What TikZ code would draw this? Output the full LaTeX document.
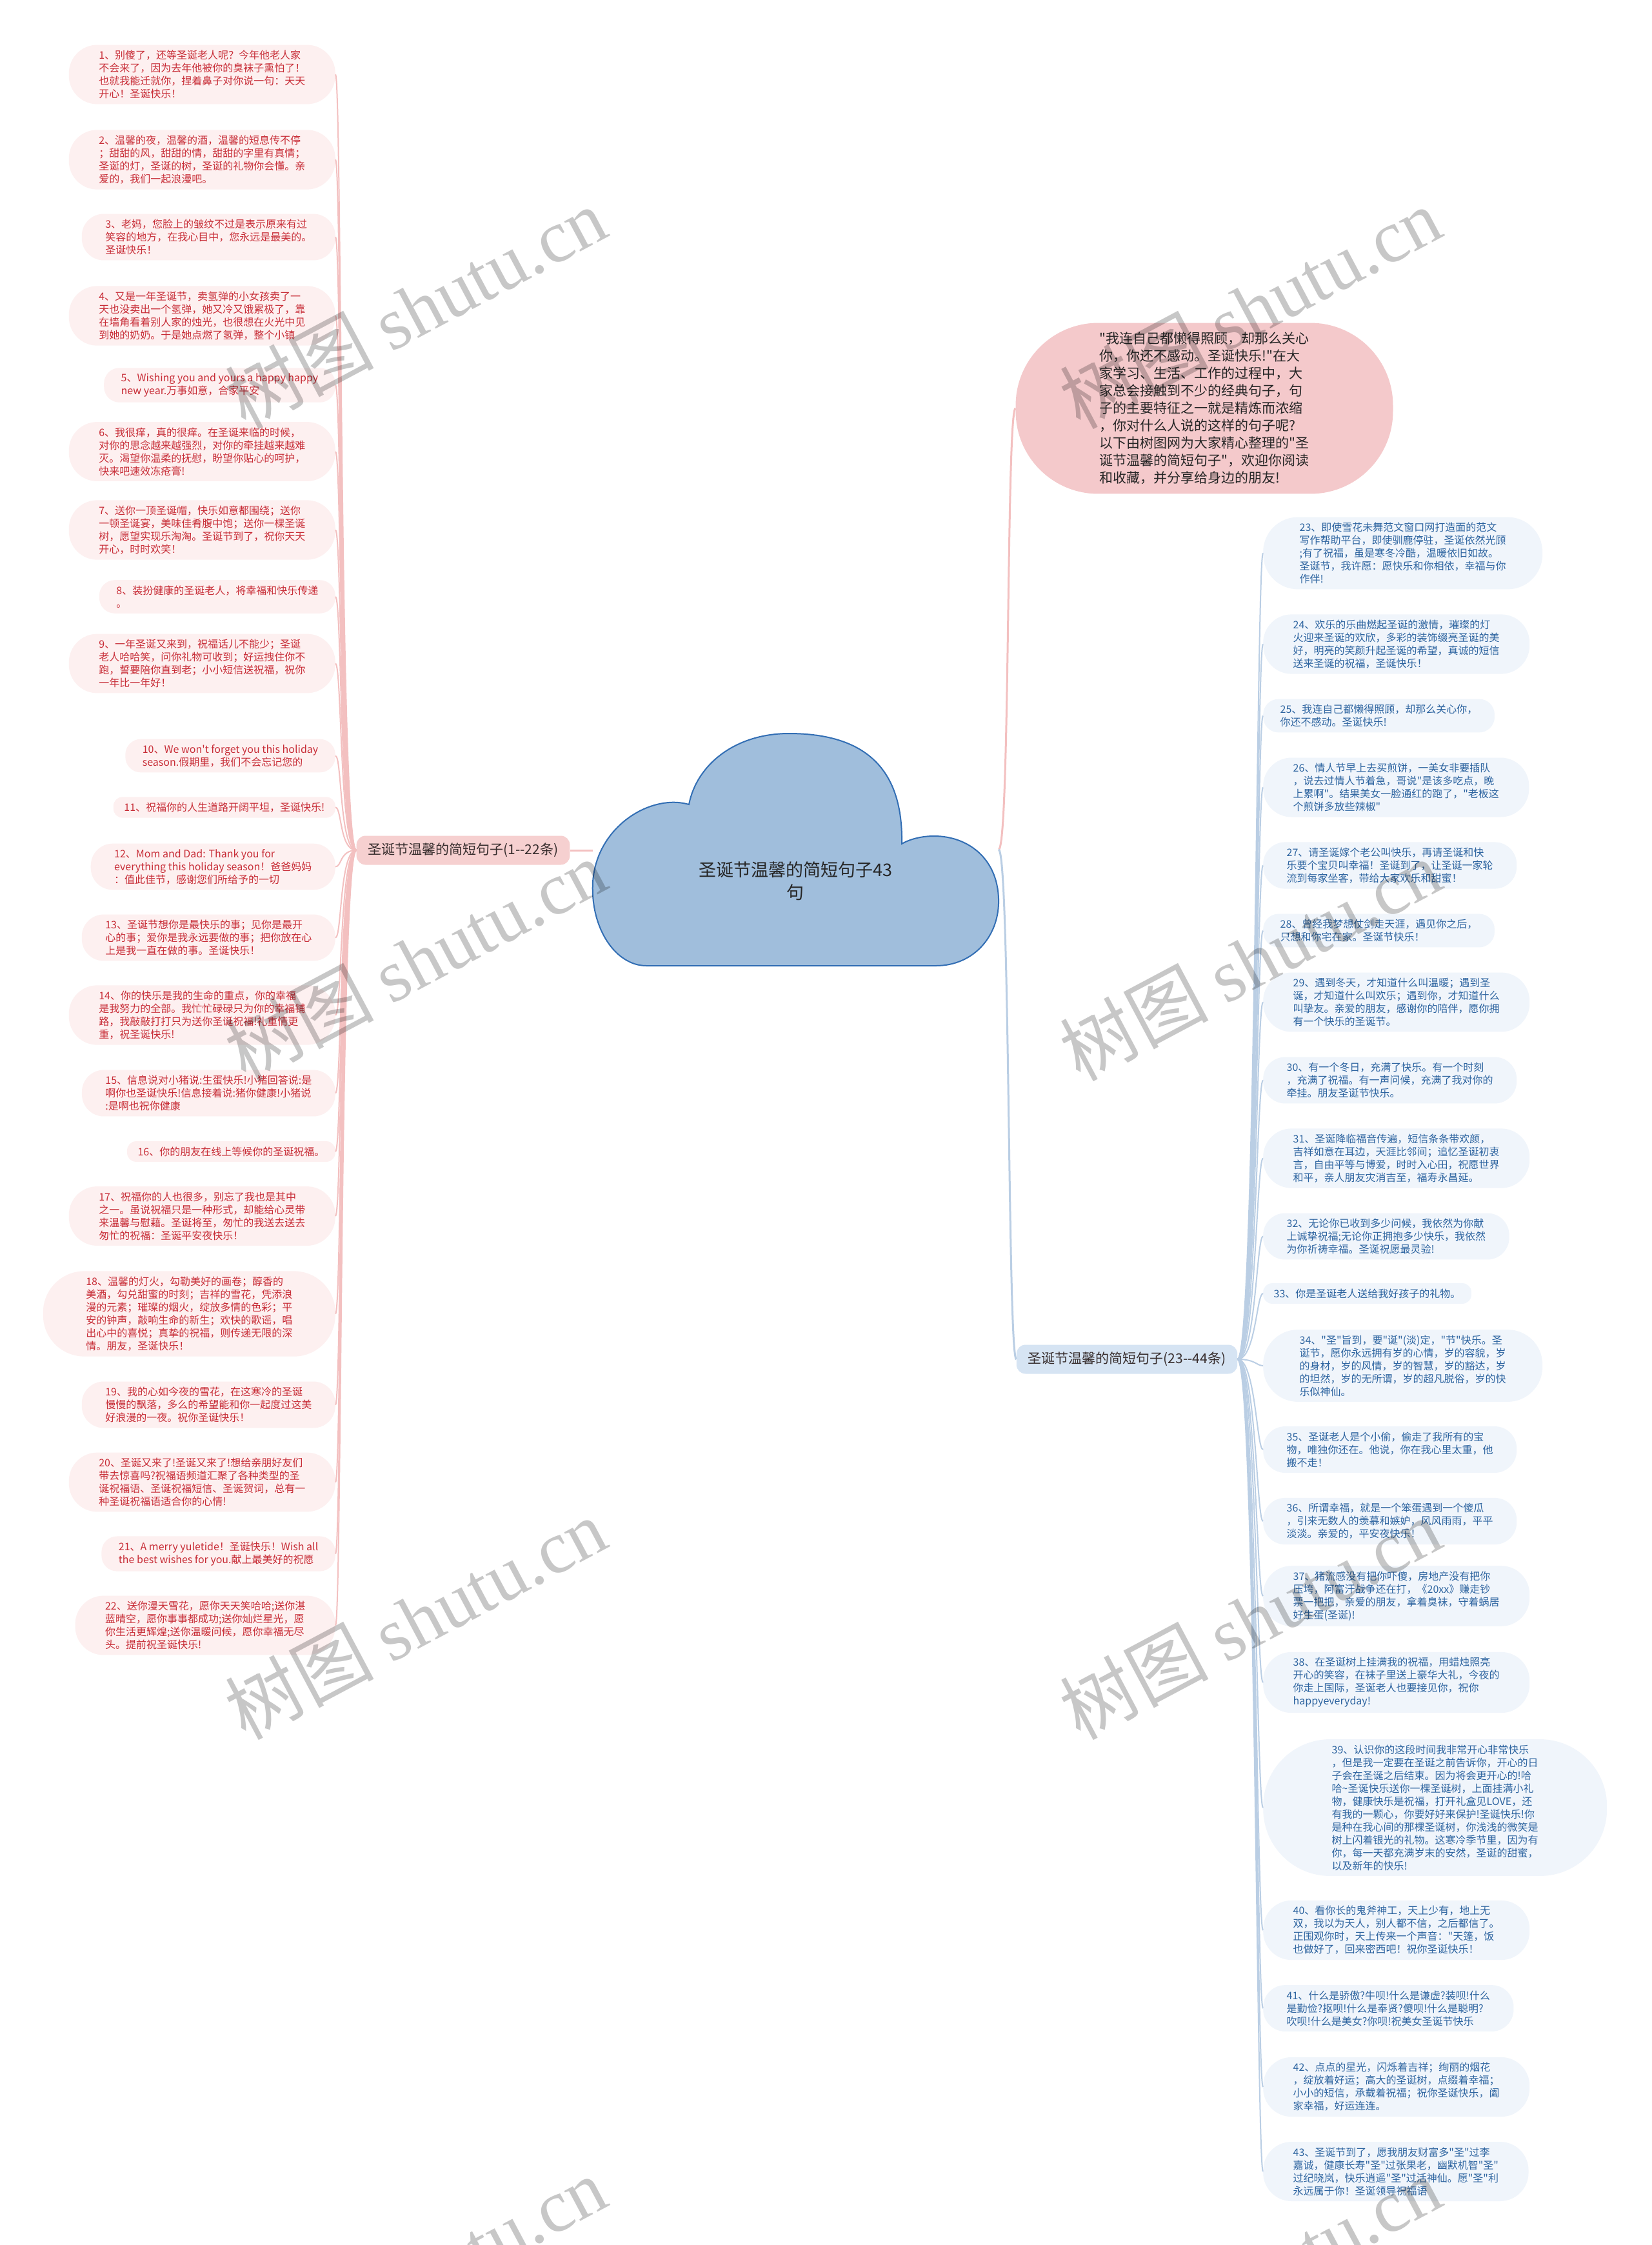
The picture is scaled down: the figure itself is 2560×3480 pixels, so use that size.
\documentclass[tikz,border=0pt]{standalone}
\usepackage{fontspec}
\newfontfamily\cjk{Noto Sans CJK SC}
\newfontfamily\wmserif{Liberation Serif}
\definecolor{lfill}{RGB}{253,240,240}
\definecolor{ltext}{RGB}{200,45,55}
\definecolor{lcon}{RGB}{243,192,192}
\definecolor{llfill}{RGB}{246,208,208}
\definecolor{rfill}{RGB}{240,245,251}
\definecolor{rtext}{RGB}{45,100,160}
\definecolor{rcon}{RGB}{186,206,228}
\definecolor{rlfill}{RGB}{214,228,243}
\definecolor{labtext}{RGB}{55,45,45}
\definecolor{cloudfill}{RGB}{160,190,220}
\definecolor{cloudline}{RGB}{50,110,180}
\definecolor{bubfill}{RGB}{244,201,203}
\tikzset{
  boxbase/.style={font=\cjk\fontsize{16}{20}\selectfont, align=left, inner ysep=8.5},
  lb/.style={boxbase, fill=lfill, text=ltext, anchor=east, inner xsep={10*#1+6.5}, rounded corners={10*#1+4}},
  rb/.style={boxbase, fill=rfill, text=rtext, anchor=west, inner xsep={10*#1+6.5}, rounded corners={10*#1+4}},
  labelbase/.style={font=\cjk\fontsize{21}{25}\selectfont, text=labtext, rounded corners=14, inner xsep=18, minimum height=45},
  llabel/.style={labelbase, fill=llfill},
  rlabel/.style={labelbase, fill=rlfill},
  bubble/.style={font=\cjk\fontsize{21}{27}\selectfont, align=left, fill=bubfill, text=black!85, inner xsep=130, inner ysep=14.5, rounded corners=128},
  lline/.style={draw=lcon, line width=2},
  rline/.style={draw=rcon, line width=2},
  lmain/.style={draw=lcon, line width=3},
  rmain/.style={draw=rcon, line width=3},
  cloudshape/.style={fill=cloudfill, draw=cloudline, line width=2},
  wm/.style={font=\cjk\fontsize{115}{115}\selectfont, text=black, text opacity=0.22, rotate=28, inner sep=0}
}
\begin{document}
\begin{tikzpicture}[x=1pt,y=-1pt]
\useasboundingbox[fill=white] (0,0) rectangle (2560,3480);

% central cloud
\draw[cloudshape] (1002,1497) -- (1451,1497)
  .. controls (1510,1497) and (1550,1450) .. (1548,1393)
  .. controls (1546,1330) and (1500,1296) .. (1448,1296)
  .. controls (1428,1296) and (1410,1301) .. (1398,1308)
  .. controls (1400,1200) and (1350,1137) .. (1223,1137)
  .. controls (1140,1137) and (1080,1185) .. (1068,1247)
  .. controls (1010,1230) and (925,1280) .. (919,1367)
  .. controls (915,1440) and (955,1497) .. (1002,1497) -- cycle;
\node[font=\cjk\fontsize{27}{35}\selectfont, align=center, text=black!85] (C) at (1233,1366) {圣诞节温馨的简短句子43\\句};
\coordinate (cL) at (919,1318);
\coordinate (cR) at (1548,1317);

% branch labels
\node[llabel] (L) at (718,1318) {圣诞节温馨的简短句子(1--22条)};
\node[rlabel] (R) at (1747,2107) {圣诞节温馨的简短句子(23--44条)};

% intro bubble
\node[bubble] (B) at (1867,633) {"我连自己都懒得照顾，却那么关心\\你，你还不感动。圣诞快乐!"在大\\家学习、生活、工作的过程中，大\\家总会接触到不少的经典句子，句\\子的主要特征之一就是精炼而浓缩\\，你对什么人说的这样的句子呢?\\以下由树图网为大家精心整理的"圣\\诞节温馨的简短句子"，欢迎你阅读\\和收藏，并分享给身边的朋友!};

% left items
\node[lb=4] (l1) at (520,115.5) {1、别傻了，还等圣诞老人呢？今年他老人家\\不会来了，因为去年他被你的臭袜子熏怕了！\\也就我能迁就你，捏着鼻子对你说一句：天天\\开心！圣诞快乐！};
\node[lb=4] (l2) at (520,247.5) {2、温馨的夜，温馨的酒，温馨的短息传不停\\；甜甜的风，甜甜的情，甜甜的字里有真情；\\圣诞的灯，圣诞的树，圣诞的礼物你会懂。亲\\爱的，我们一起浪漫吧。};
\node[lb=3] (l3) at (520,367.5) {3、老妈，您脸上的皱纹不过是表示原来有过\\笑容的地方，在我心目中，您永远是最美的。\\圣诞快乐！};
\node[lb=4] (l4) at (520,489.5) {4、又是一年圣诞节，卖氢弹的小女孩卖了一\\天也没卖出一个氢弹，她又冷又饿累极了，靠\\在墙角看着别人家的烛光，也很想在火光中见\\到她的奶奶。于是她点燃了氢弹，整个小镇};
\node[lb=2] (l5) at (520,597) {5、Wishing you and yours a happy happy\\new year.万事如意，合家平安};
\node[lb=4] (l6) at (520,700) {6、我很痒，真的很痒。在圣诞来临的时候，\\对你的思念越来越强烈，对你的牵挂越来越难\\灭。渴望你温柔的抚慰，盼望你贴心的呵护，\\快来吧速效冻疮膏!};
\node[lb=4] (l7) at (520,821.5) {7、送你一顶圣诞帽，快乐如意都围绕；送你\\一顿圣诞宴，美味佳肴腹中饱；送你一棵圣诞\\树，愿望实现乐淘淘。圣诞节到了，祝你天天\\开心，时时欢笑！};
\node[lb=2] (l8) at (520,925) {8、装扮健康的圣诞老人，将幸福和快乐传递\\。};
\node[lb=4] (l9) at (520,1028.5) {9、一年圣诞又来到，祝福话儿不能少；圣诞\\老人哈哈笑，问你礼物可收到；好运拽住你不\\跑，誓要陪你直到老；小小短信送祝福，祝你\\一年比一年好！};
\node[lb=2] (l10) at (520,1171.5) {10、We won't forget you this holiday\\season.假期里，我们不会忘记您的};
\node[lb=1] (l11) at (520,1251.5) {11、祝福你的人生道路开阔平坦，圣诞快乐!};
\node[lb=3] (l12) at (520,1343.5) {12、Mom and Dad: Thank you for\\everything this holiday season！爸爸妈妈\\：值此佳节，感谢您们所给予的一切};
\node[lb=3] (l13) at (520,1453.5) {13、圣诞节想你是最快乐的事；见你是最开\\心的事；爱你是我永远要做的事；把你放在心\\上是我一直在做的事。圣诞快乐！};
\node[lb=4] (l14) at (520,1573.5) {14、你的快乐是我的生命的重点，你的幸福\\是我努力的全部。我忙忙碌碌只为你的幸福铺\\路，我敲敲打打只为送你圣诞祝福!礼重情更\\重，祝圣诞快乐!};
\node[lb=3] (l15) at (520,1694.5) {15、信息说对小猪说:生蛋快乐!小猪回答说:是\\啊你也圣诞快乐!信息接着说:猪你健康!小猪说\\:是啊也祝你健康};
\node[lb=1] (l16) at (520,1785) {16、你的朋友在线上等候你的圣诞祝福。};
\node[lb=4] (l17) at (520,1885) {17、祝福你的人也很多，别忘了我也是其中\\之一。虽说祝福只是一种形式，却能给心灵带\\来温馨与慰藉。圣诞将至，匆忙的我送去送去\\匆忙的祝福：圣诞平安夜快乐！};
\node[lb=6] (l18) at (520,2036.5) {18、温馨的灯火，勾勒美好的画卷；醇香的\\美酒，勾兑甜蜜的时刻；吉祥的雪花，凭添浪\\漫的元素；璀璨的烟火，绽放多情的色彩；平\\安的钟声，敲响生命的新生；欢快的歌谣，唱\\出心中的喜悦；真挚的祝福，则传递无限的深\\情。朋友，圣诞快乐！};
\node[lb=3] (l19) at (520,2177.5) {19、我的心如今夜的雪花，在这寒冷的圣诞\\慢慢的飘落，多么的希望能和你一起度过这美\\好浪漫的一夜。祝你圣诞快乐！};
\node[lb=4] (l20) at (520,2297.5) {20、圣诞又来了!圣诞又来了!想给亲朋好友们\\带去惊喜吗?祝福语频道汇聚了各种类型的圣\\诞祝福语、圣诞祝福短信、圣诞贺词，总有一\\种圣诞祝福语适合你的心情!};
\node[lb=2] (l21) at (520,2408.5) {21、A merry yuletide！圣诞快乐！Wish all\\the best wishes for you.献上最美好的祝愿};
\node[lb=4] (l22) at (520,2519.5) {22、送你漫天雪花，愿你天天笑哈哈;送你湛\\蓝晴空，愿你事事都成功;送你灿烂星光，愿\\你生活更辉煌;送你温暖问候，愿你幸福无尽\\头。提前祝圣诞快乐!};

% right items
\node[rb=5] (r23) at (1958,857.5) {23、即使雪花未舞范文窗口网打造面的范文\\写作帮助平台，即使驯鹿停驻，圣诞依然光顾\\;有了祝福，虽是寒冬冷酷，温暖依旧如故。\\圣诞节，我许愿：愿快乐和你相依，幸福与你\\作伴!};
\node[rb=4] (r24) at (1958,998.5) {24、欢乐的乐曲燃起圣诞的激情，璀璨的灯\\火迎来圣诞的欢欣，多彩的装饰缀亮圣诞的美\\好，明亮的笑颜升起圣诞的希望，真诚的短信\\送来圣诞的祝福，圣诞快乐！};
\node[rb=2] (r25) at (1958,1109.5) {25、我连自己都懒得照顾，却那么关心你，\\你还不感动。圣诞快乐!};
\node[rb=4] (r26) at (1958,1220.5) {26、情人节早上去买煎饼，一美女非要插队\\，说去过情人节着急，哥说"是该多吃点，晚\\上累啊"。结果美女一脸通红的跑了，"老板这\\个煎饼多放些辣椒"};
\node[rb=3] (r27) at (1958,1341.5) {27、请圣诞嫁个老公叫快乐，再请圣诞和快\\乐要个宝贝叫幸福！圣诞到了，让圣诞一家轮\\流到每家坐客，带给大家欢乐和甜蜜！};
\node[rb=2] (r28) at (1958,1442.5) {28、曾经我梦想仗剑走天涯，遇见你之后，\\只想和你宅在家。圣诞节快乐！};
\node[rb=4] (r29) at (1958,1553.5) {29、遇到冬天，才知道什么叫温暖；遇到圣\\诞，才知道什么叫欢乐；遇到你，才知道什么\\叫挚友。亲爱的朋友，感谢你的陪伴，愿你拥\\有一个快乐的圣诞节。};
\node[rb=3] (r30) at (1958,1674.5) {30、有一个冬日，充满了快乐。有一个时刻\\，充满了祝福。有一声问候，充满了我对你的\\牵挂。朋友圣诞节快乐。};
\node[rb=4] (r31) at (1958,1795.5) {31、圣诞降临福音传遍，短信条条带欢颜，\\吉祥如意在耳边，天涯比邻间；追忆圣诞初衷\\言，自由平等与博爱，时时入心田，祝愿世界\\和平，亲人朋友灾消吉至，福寿永昌延。};
\node[rb=3] (r32) at (1958,1916.5) {32、无论你已收到多少问候，我依然为你献\\上诚挚祝福;无论你正拥抱多少快乐，我依然\\为你祈祷幸福。圣诞祝愿最灵验!};
\node[rb=1] (r33) at (1958,2005) {33、你是圣诞老人送给我好孩子的礼物。};
\node[rb=5] (r34) at (1958,2117) {34、"圣"旨到，要"诞"(淡)定，"节"快乐。圣\\诞节，愿你永远拥有岁的心情，岁的容貌，岁\\的身材，岁的风情，岁的智慧，岁的豁达，岁\\的坦然，岁的无所谓，岁的超凡脱俗，岁的快\\乐似神仙。};
\node[rb=3] (r35) at (1958,2247) {35、圣诞老人是个小偷，偷走了我所有的宝\\物，唯独你还在。他说，你在我心里太重，他\\搬不走！};
\node[rb=3] (r36) at (1958,2358) {36、所谓幸福，就是一个笨蛋遇到一个傻瓜\\，引来无数人的羡慕和嫉妒，风风雨雨，平平\\淡淡。亲爱的，平安夜快乐！};
\node[rb=4] (r37) at (1958,2474) {37、猪流感没有把你吓傻，房地产没有把你\\压垮，阿富汗战争还在打，《20xx》赚走钞\\票一把把，亲爱的朋友，拿着臭袜，守着蜗居\\好生蛋(圣诞)!};
\node[rb=4] (r38) at (1958,2608) {38、在圣诞树上挂满我的祝福，用蜡烛照亮\\开心的笑容，在袜子里送上豪华大礼，今夜的\\你走上国际，圣诞老人也要接见你，祝你\\happyeveryday!};
\node[rb=10] (r39) at (1958,2802) {39、认识你的这段时间我非常开心非常快乐\\，但是我一定要在圣诞之前告诉你，开心的日\\子会在圣诞之后结束。因为将会更开心的!哈\\哈\textasciitilde 圣诞快乐送你一棵圣诞树，上面挂满小礼\\物，健康快乐是祝福，打开礼盒见LOVE，还\\有我的一颗心，你要好好来保护!圣诞快乐!你\\是种在我心间的那棵圣诞树，你浅浅的微笑是\\树上闪着银光的礼物。这寒冷季节里，因为有\\你，每一天都充满岁末的安然，圣诞的甜蜜，\\以及新年的快乐!};
\node[rb=4] (r40) at (1958,2992) {40、看你长的鬼斧神工，天上少有，地上无\\双，我以为天人，别人都不信，之后都信了。\\正围观你时，天上传来一个声音："天篷，饭\\也做好了，回来密西吧！祝你圣诞快乐！};
\node[rb=3] (r41) at (1958,3113) {41、什么是骄傲?牛呗!什么是谦虚?装呗!什么\\是勤俭?抠呗!什么是奉贤?傻呗!什么是聪明?\\吹呗!什么是美女?你呗!祝美女圣诞节快乐};
\node[rb=4] (r42) at (1958,3235) {42、点点的星光，闪烁着吉祥；绚丽的烟花\\，绽放着好运；高大的圣诞树，点缀着幸福；\\小小的短信，承载着祝福；祝你圣诞快乐，阖\\家幸福，好运连连。};
\node[rb=4] (r43) at (1958,3366) {43、圣诞节到了，愿我朋友财富多"圣"过李\\嘉诚，健康长寿"圣"过张果老，幽默机智"圣"\\过纪晓岚，快乐逍遥"圣"过活神仙。愿"圣"利\\永远属于你！圣诞领导祝福语};

% connectors
\begin{scope}[on background layer/.style={}]
\draw[lmain] (L.east) -- (cL);
\draw[lmain] (cR) .. controls (1566,1317) and (1560,633) .. (B.west);
\draw[rmain] (cR) .. controls (1566,1317) and (1562,2107) .. (R.west);
\foreach \i in {1,...,22} {\draw[lline] (L.west) .. controls +(-26,0) and +(10,0) .. (l\i.east);}
\foreach \i in {23,...,43} {\draw[rline] (R.east) .. controls +(28,0) and +(-10,0) .. (r\i.west);}
\end{scope}

% watermarks
\foreach \wx in {644,1938} {
  \foreach \wy in {477,1488,2509,3530} {
    \node[wm] at (\wx,\wy) {树图 {\wmserif shutu.cn}};
  }
}
\end{tikzpicture}
\end{document}
